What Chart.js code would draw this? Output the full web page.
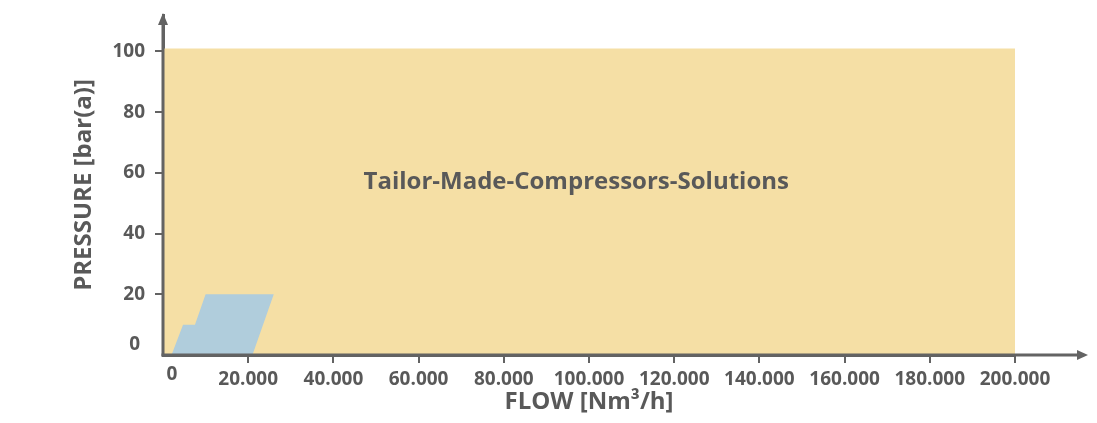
<!DOCTYPE html>
<html>
<head>
<meta charset="utf-8">
<script src="https://cdn.jsdelivr.net/npm/chart.js@4.4.1/dist/chart.umd.min.js"></script>
<style>
    html, body { margin: 0; padding: 0; background: #fff; }
    #wrap { width: 1097px; height: 423px; }
</style>
</head>
<body>
<div id="wrap"><canvas id="grafico-pressao-vazao"></canvas></div>
<script>
// ===== DADOS =====
const flowTicks = [0, 20000, 40000, 60000, 80000, 100000, 120000, 140000, 160000, 180000, 200000]
const pressureTicks = [0, 20, 40, 60, 80, 100]

// faixa amarela (Tailor-Made)
const tailorFlow = [0, 200000]
const tailorPressure = [101, 101]

// area azul (compressores padrão)
const standardFlow = [2000, 4700, 7500, 10000, 26000, 21000]
const standardPressure = [0, 10, 10, 20, 20, 0]

const areaLabel = 'Tailor-Made-Compressors-Solutions'
const areaLabelFlow = 97000
const areaLabelPressure = 57

const flowMax = 200000
const pressureMax = 112

// ===== ESTILO =====
const textColor = '#595959'
const axisColor = '#636363'
const fontFamily = "'Open Sans', sans-serif"

// formata 20000 -> 20.000
function formatarFlow(v) {
    return String(v).replace(/\B(?=(\d{3})+(?!\d))/g, '.')
}

// eixos com setas, texto central e os "0"
const decoracao = {
    id: 'decoracao',
    afterDraw(chart) {
        const { ctx, chartArea, scales } = chart
        const x0 = scales.x.getPixelForValue(0)
        const y0 = scales.y.getPixelForValue(0)
        ctx.save()
        ctx.strokeStyle = axisColor
        ctx.fillStyle = axisColor
        ctx.lineWidth = 3
        ctx.lineCap = 'butt'

        // eixo x (até a seta)
        ctx.beginPath()
        ctx.moveTo(x0 - 1.5, y0)
        ctx.lineTo(chartArea.right + 65, y0)
        ctx.stroke()

        // eixo y (até a seta)
        ctx.beginPath()
        ctx.moveTo(x0, y0 + 1.5)
        ctx.lineTo(x0, chartArea.top + 6)
        ctx.stroke()

        // seta x
        ctx.beginPath()
        ctx.moveTo(chartArea.right + 73, y0)
        ctx.lineTo(chartArea.right + 62, y0 - 5)
        ctx.lineTo(chartArea.right + 62, y0 + 5)
        ctx.closePath()
        ctx.fill()

        // seta y
        ctx.beginPath()
        ctx.moveTo(x0, chartArea.top - 2)
        ctx.lineTo(x0 - 5, chartArea.top + 10)
        ctx.lineTo(x0 + 5, chartArea.top + 10)
        ctx.closePath()
        ctx.fill()

        // texto da area
        ctx.fillStyle = textColor
        ctx.textAlign = 'center'
        ctx.textBaseline = 'middle'
        ctx.font = `bold 24px ${fontFamily}`
        ctx.fillText(areaLabel, scales.x.getPixelForValue(areaLabelFlow), scales.y.getPixelForValue(areaLabelPressure))

        // zeros dos eixos
        ctx.font = `bold 19px ${fontFamily}`
        ctx.fillText('0', x0 + 9, y0 + 20)
        ctx.textAlign = 'right'
        ctx.fillText('0', x0 - 23, y0 - 10)
        ctx.restore()
    }
}

const dadosTailor = tailorFlow.map((f, i) => ({ x: f, y: tailorPressure[i] }))
const dadosStandard = standardFlow.map((f, i) => ({ x: f, y: standardPressure[i] }))

const ctx = document.getElementById('grafico-pressao-vazao')

new Chart(ctx, {
    type: 'scatter',
    data: {
        datasets: [
            {
                label: 'Standard',
                data: dadosStandard,
                showLine: true,
                fill: 'shape',
                backgroundColor: '#b0cddc',
                borderColor: 'rgba(0,0,0,0)',
                borderWidth: 0,
                pointRadius: 0,
                tension: 0
            },
            {
                label: 'Tailor-Made',
                data: dadosTailor,
                showLine: true,
                fill: 'origin',
                backgroundColor: '#f5dfa5',
                borderColor: 'rgba(0,0,0,0)',
                borderWidth: 0,
                pointRadius: 0,
                tension: 0
            }
        ]
    },
    options: {
        responsive: true,
        maintainAspectRatio: false,
        animation: false,
        devicePixelRatio: 1,
        layout: { padding: { left: 60, top: 15, right: 82, bottom: 0 } },
        plugins: {
            legend: { display: false },
            tooltip: { enabled: false }
        },
        scales: {
            x: {
                type: 'linear',
                z: 1,
                min: 0,
                max: flowMax,
                afterBuildTicks: (scale) => { scale.ticks = flowTicks.map(v => ({ value: v })) },
                afterFit: (scale) => {
                    scale.height = 68
                    scale.paddingLeft = 0
                    scale.paddingRight = 0
                },
                border: { display: true, color: axisColor, width: 3 },
                grid: {
                    drawOnChartArea: false,
                    drawTicks: true,
                    tickLength: 8,
                    lineWidth: 2,
                    color: (c) => (c.tick && c.tick.value === 0) ? 'rgba(0,0,0,0)' : axisColor
                },
                ticks: {
                    autoSkip: false,
                    maxRotation: 0,
                    padding: 5,
                    color: textColor,
                    font: { family: fontFamily, size: 19, weight: 'bold' },
                    callback: (v) => v === 0 ? '' : formatarFlow(v)
                },
                title: {
                    display: true,
                    text: 'FLOW [Nm³/h]',
                    color: textColor,
                    font: { family: fontFamily, size: 24, weight: 'bold' },
                    padding: { top: 0, bottom: 6 }
                }
            },
            y: {
                type: 'linear',
                z: 1,
                min: 0,
                max: pressureMax,
                afterBuildTicks: (scale) => { scale.ticks = pressureTicks.map(v => ({ value: v })) },
                afterFit: (scale) => {
                    scale.width = 103
                    scale.paddingTop = 0
                    scale.paddingBottom = 0
                },
                border: { display: true, color: axisColor, width: 3 },
                grid: {
                    drawOnChartArea: false,
                    drawTicks: true,
                    tickLength: 8,
                    lineWidth: 2,
                    color: (c) => (c.tick && c.tick.value === 0) ? 'rgba(0,0,0,0)' : axisColor
                },
                ticks: {
                    padding: 10,
                    color: textColor,
                    font: { family: fontFamily, size: 19, weight: 'bold' },
                    callback: (v) => v === 0 ? '' : String(v)
                },
                title: {
                    display: true,
                    text: 'PRESSURE [bar(a)]',
                    color: textColor,
                    font: { family: fontFamily, size: 24, weight: 'bold' },
                    padding: { top: 10, bottom: 0 }
                }
            }
        }
    },
    plugins: [decoracao]
})
</script>
</body>
</html>
